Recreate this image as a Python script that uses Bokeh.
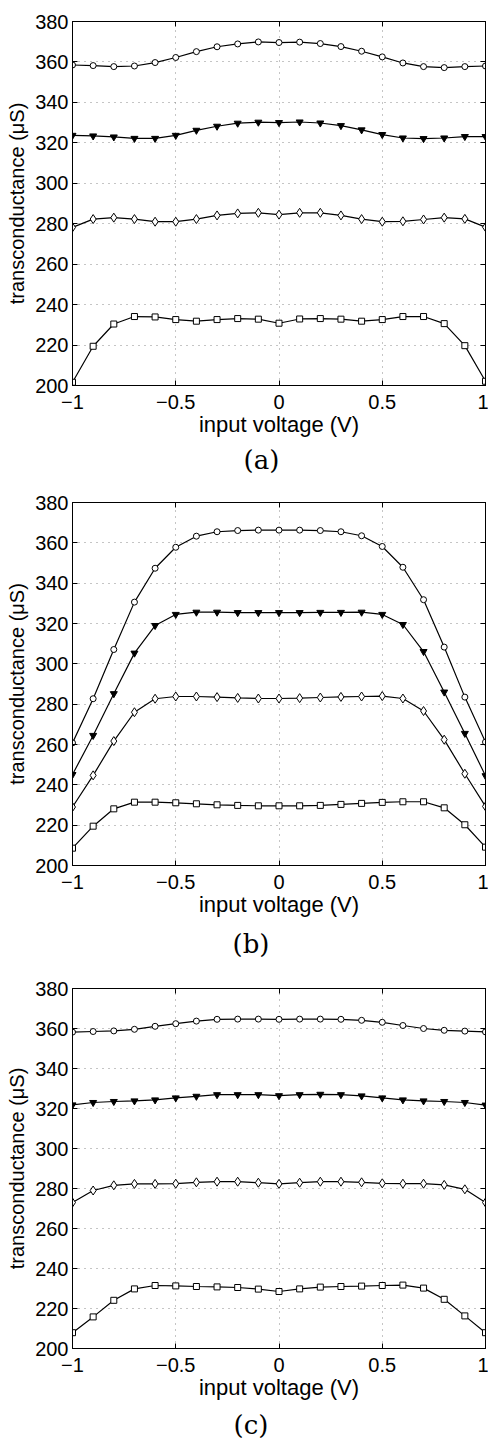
from bokeh.plotting import figure
from bokeh.models import LinearAxis, FixedTicker, Title
from bokeh.layouts import column
from bokeh.embed import file_html
from bokeh.resources import INLINE

voltage = [-1.0, -0.9, -0.8, -0.7, -0.6, -0.5, -0.4, -0.3, -0.2, -0.1, 0.0,
           0.1, 0.2, 0.3, 0.4, 0.5, 0.6, 0.7, 0.8, 0.9, 1.0]

# panel (a)
a_circle = [358.5, 358.2, 357.7, 358.0, 359.7, 362.2, 365.1, 367.5, 368.9, 369.9, 369.6,
            369.8, 369.1, 367.6, 365.3, 362.5, 359.5, 357.7, 357.2, 357.7, 358.0]
a_triangle = [323.7, 323.4, 322.9, 322.2, 322.2, 323.7, 326.2, 328.2, 329.7, 330.2, 330.0,
              330.3, 329.8, 328.5, 326.4, 324.1, 322.4, 322.1, 322.4, 323.1, 323.1]
a_diamond = [278.2, 282.3, 283.0, 282.3, 281.0, 281.0, 282.3, 284.1, 285.1, 285.4, 284.5,
             285.4, 285.4, 284.1, 282.3, 281.0, 281.2, 282.1, 283.0, 282.4, 278.3]
a_square = [201.6, 219.4, 230.4, 234.1, 233.9, 232.6, 231.8, 232.6, 233.1, 232.8, 230.8,
            232.9, 233.1, 232.8, 231.8, 232.6, 234.1, 234.1, 230.6, 219.7, 202.1]

# panel (b)
b_circle = [260.8, 282.7, 307.1, 330.6, 347.4, 357.8, 363.3, 365.5, 366.1, 366.3, 366.3,
            366.3, 366.1, 365.5, 363.5, 358.2, 347.9, 331.8, 308.3, 283.5, 261.2]
b_triangle = [245.1, 264.5, 285.2, 305.3, 319.0, 324.5, 325.6, 325.6, 325.4, 325.4, 325.4,
              325.4, 325.5, 325.5, 325.6, 324.5, 319.5, 306.1, 286.0, 265.5, 244.5]
b_diamond = [229.0, 244.7, 261.7, 276.0, 282.7, 283.8, 283.8, 283.5, 283.1, 282.8, 282.8,
             283.0, 283.3, 283.6, 283.8, 284.0, 282.8, 276.6, 262.4, 245.5, 229.3]
b_square = [208.6, 219.5, 228.1, 231.4, 231.4, 231.1, 230.6, 230.1, 229.8, 229.6, 229.6,
            229.6, 229.8, 230.3, 230.8, 231.3, 231.6, 231.6, 228.6, 220.2, 209.1]

# panel (c)
c_circle = [358.2, 358.5, 358.8, 359.6, 361.1, 362.4, 363.7, 364.6, 364.7, 364.7, 364.6,
            364.7, 364.7, 364.6, 364.1, 363.1, 361.5, 360.0, 359.1, 358.7, 358.3]
c_triangle = [321.8, 323.0, 323.5, 323.8, 324.3, 325.3, 326.1, 326.9, 326.9, 326.9, 326.4,
              326.9, 327.1, 326.9, 326.3, 325.3, 324.3, 323.8, 323.5, 323.0, 321.7]
c_diamond = [273.0, 279.0, 281.6, 282.3, 282.3, 282.4, 283.1, 283.4, 283.4, 282.9, 282.3,
             282.9, 283.4, 283.4, 283.1, 282.6, 282.4, 282.4, 281.8, 279.6, 273.0]
c_square = [207.9, 215.8, 224.1, 229.8, 231.5, 231.3, 231.0, 230.8, 230.5, 229.7, 228.5,
            229.8, 230.7, 231.0, 231.2, 231.5, 231.7, 230.2, 224.6, 216.3, 207.9]

x_ticks = [-1, -0.5, 0, 0.5, 1]
x_tick_labels = {-1: "\u22121", -0.5: "\u22120.5", 0: "0", 0.5: "0.5", 1: "1"}
y_ticks = [200, 220, 240, 260, 280, 300, 320, 340, 360, 380]
x_title = "input voltage (V)"
y_title = "transconductance (\u03bcS)"

SANS = "Liberation Sans"


def style_axis(ax, labels=True, ticks=None):
    ax.major_tick_in = 5
    ax.major_tick_out = 0
    ax.minor_tick_in = 0
    ax.minor_tick_out = 0
    ax.axis_line_color = "black"
    ax.major_tick_line_color = "black"
    if labels:
        ax.major_label_text_font = SANS
        ax.major_label_text_font_size = "20px"
        ax.major_label_text_color = "black"
        ax.axis_label_text_font = SANS
        ax.axis_label_text_font_style = "normal"
        ax.axis_label_text_color = "black"
    else:
        ax.major_label_overrides = {t: "" for t in ticks}
        ax.major_label_standoff = 0


def make_panel(circ, tri, dia, sq, caption, height, top, bottom, cap_standoff, cap_offset):
    p = figure(width=488, height=height, x_range=(-1, 1), y_range=(200, 380),
               output_backend="svg", toolbar_location=None,
               min_border_left=72, min_border_right=3,
               min_border_top=top, min_border_bottom=bottom)
    p.background_fill_color = "white"
    p.border_fill_color = "white"
    p.outline_line_color = "black"
    p.outline_line_width = 1

    p.xaxis.ticker = FixedTicker(ticks=x_ticks)
    p.xaxis.major_label_overrides = x_tick_labels
    p.yaxis.ticker = FixedTicker(ticks=y_ticks)
    p.xaxis.axis_label = x_title
    p.yaxis.axis_label = y_title
    style_axis(p.xaxis[0])
    style_axis(p.yaxis[0])
    p.xaxis.axis_label_text_font_size = "22px"
    p.yaxis.axis_label_text_font_size = "20px"
    p.xaxis.major_label_standoff = 9
    p.xaxis.axis_label_standoff = 0
    p.yaxis.major_label_standoff = 4
    p.yaxis.axis_label_standoff = 4

    ra = LinearAxis(ticker=FixedTicker(ticks=y_ticks))
    style_axis(ra, labels=False, ticks=y_ticks)
    p.add_layout(ra, "right")
    ta = LinearAxis(ticker=FixedTicker(ticks=x_ticks))
    style_axis(ta, labels=False, ticks=x_ticks)
    p.add_layout(ta, "above")

    p.xgrid.ticker = FixedTicker(ticks=x_ticks)
    p.ygrid.ticker = FixedTicker(ticks=y_ticks)
    for g in (p.xgrid[0], p.ygrid[0]):
        g.grid_line_color = "#8a8a8a"
        g.grid_line_dash = "1 5"
        g.grid_line_width = 1

    for ys, marker, fill, size in ((circ, "circle", "white", 6),
                                   (tri, "inverted_triangle", "black", 7),
                                   (dia, "diamond", "white", 9),
                                   (sq, "square", "white", 6)):
        p.line(voltage, ys, line_color="black", line_width=1.2)
        p.scatter(voltage, ys, marker=marker, size=size, fill_color=fill,
                  line_color="black", line_width=1)

    cap = Title(text=caption, align="left", text_font="DejaVu Serif",
                text_font_size="26px", text_font_style="normal",
                text_color="black", standoff=cap_standoff, offset=cap_offset)
    p.add_layout(cap, "below")
    return p


pa = make_panel(a_circle, a_triangle, a_diamond, a_square, "(a)", 482, 21, 97, 6, 171)
pb = make_panel(b_circle, b_triangle, b_diamond, b_square, "(b)", 484, 20, 101, 14, 160)
pc = make_panel(c_circle, c_triangle, c_diamond, c_square, "(c)", 478, 22, 92, 10, 161)

layout = column(pa, pb, pc, spacing=0)
open("out.html", "w").write(file_html(layout, INLINE))
